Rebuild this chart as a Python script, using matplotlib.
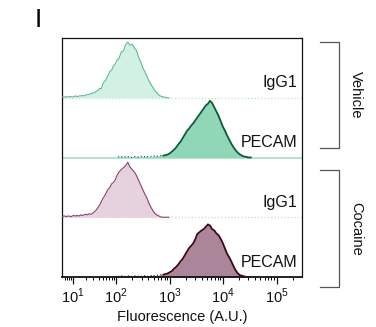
import numpy as np
import matplotlib
matplotlib.use("Agg")
import matplotlib.pyplot as plt
from matplotlib.lines import Line2D

plt.rcParams['font.family'] = ['Liberation Sans', 'DejaVu Sans']
plt.rcParams['mathtext.fontset'] = 'custom'
plt.rcParams['mathtext.rm'] = 'Liberation Sans'

# histogram bins in log10(fluorescence) units
igg_bins = [0.70, 0.74, 0.78, 0.82, 0.86, 0.90, 0.94, 0.98, 1.02, 1.06,
            1.10, 1.14, 1.18, 1.22, 1.26, 1.30, 1.34, 1.38, 1.42, 1.46,
            1.50, 1.54, 1.58, 1.62, 1.66, 1.70, 1.74, 1.78, 1.82, 1.86,
            1.90, 1.94, 1.98, 2.02, 2.06, 2.10, 2.14, 2.18, 2.22, 2.26,
            2.30, 2.34, 2.38, 2.42, 2.46, 2.50, 2.54, 2.58, 2.62, 2.66,
            2.70, 2.74, 2.78, 2.82, 2.86, 2.90, 2.94, 2.98]
veh_igg = [1, 2, 1, 2, 1, 2, 2, 1, 2, 3,
           2, 3, 3, 4, 3, 5, 5, 6, 7, 8,
           8, 11, 12, 16, 15, 24, 28, 32, 38, 44,
           46, 53, 56, 63, 66, 77, 78, 89, 93, 88,
           90, 84, 79, 68, 60, 50, 43, 35, 27, 21,
           15, 10, 6, 3, 2, 1, 0, 0]
coc_igg = [1, 2, 2, 1, 2, 2, 1, 2, 3, 2,
           3, 2, 4, 3, 4, 5, 4, 6, 5, 7,
           9, 12, 16, 20, 26, 32, 36, 42, 47, 50,
           56, 58, 62, 70, 76, 80, 83, 86, 92, 84,
           80, 76, 70, 62, 54, 46, 38, 31, 22, 15,
           9, 5, 3, 1, 0, 0, 0, 0]

pecam_bins = [2.00, 2.04, 2.08, 2.12, 2.16, 2.20, 2.24, 2.28, 2.32, 2.36,
              2.40, 2.44, 2.48, 2.52, 2.56, 2.60, 2.64, 2.68, 2.72, 2.76,
              2.80, 2.84, 2.88, 2.92, 2.96, 3.00, 3.04, 3.08, 3.12, 3.16,
              3.20, 3.24, 3.28, 3.32, 3.36, 3.40, 3.44, 3.48, 3.52, 3.56,
              3.60, 3.64, 3.68, 3.72, 3.76, 3.80, 3.84, 3.88, 3.92, 3.96,
              4.00, 4.04, 4.08, 4.12, 4.16, 4.20, 4.24, 4.28, 4.32, 4.36,
              4.40, 4.44, 4.48, 4.52]
veh_pecam = [0, 1, 2, 1, 1, 2, 1, 0, 1, 2,
             1, 1, 2, 1, 2, 1, 2, 2, 3, 2,
             3, 3, 3, 4, 5, 7, 10, 13, 17, 22,
             26, 32, 38, 44, 48, 53, 57, 62, 67, 72,
             77, 82, 87, 90, 95, 91, 84, 77, 70, 61,
             52, 45, 37, 30, 23, 17, 12, 8, 5, 3,
             1.5, 1, 0, 0]
coc_pecam = [0, 1, 1, 2, 1, 1, 2, 1, 1, 2,
             1, 2, 1, 2, 2, 1, 2, 3, 2, 3,
             3, 4, 4, 5, 6, 8, 10, 14, 17, 21,
             26, 30, 36, 42, 48, 52, 56, 63, 72, 75,
             78, 80, 84, 88, 86, 80, 78, 73, 70, 64,
             57, 48, 39, 33, 26, 18, 11, 6, 3, 2,
             1, 0, 0, 0]

labels = ['IgG1', 'PECAM', 'IgG1', 'PECAM']
groups = ['Vehicle', 'Cocaine']

# biexponential-like display: decade -> screen position
dec_pts = [-1.0, 0.7, 1.0, 2.0, 3.0, 4.0, 5.0, 6.5]
pos_pts = [0.0, 62.0, 73.0, 116.0, 170.0, 223.0, 277.0, 358.0]

def fwd(x):
    return np.interp(x, dec_pts, pos_pts)

def inv(p):
    return np.interp(p, pos_pts, dec_pts)

fig = plt.figure(figsize=(3.76, 3.27), dpi=100)
ax = fig.add_axes([62 / 376, 50 / 327, 240 / 376, 239 / 327])
ax.set_xscale('function', functions=(fwd, inv))
ax.set_xlim(0.7, 5.47)
ax.set_ylim(0, 400)

# (bins, heights, fill, edge, edge width, index where the solid outline starts)
panels = [
    (igg_bins, veh_igg, '#d3f1e3', '#5fbb96', 0.8, 0),
    (pecam_bins, veh_pecam, '#8fd7b7', '#0b5a3a', 1.3, 22),
    (igg_bins, coc_igg, '#e6d2df', '#86436a', 0.8, 0),
    (pecam_bins, coc_pecam, '#ab8599', '#3b0818', 1.3, 22),
]
base_styles = [('#b8e6d2', ':', 0.9), ('#a3e0c6', '-', 1.2),
               ('#e8c8d6', ':', 0.9), (None, None, None)]

for k, (bx, hy, fc, ec, lw, i0) in enumerate(panels):
    base = (3 - k) * 100
    bx = np.array(bx)
    top = base + np.array(hy, dtype=float)
    ax.fill_between(bx, base, top, color=fc, lw=0, zorder=2)
    if i0 > 0:
        ax.plot(bx[1:i0 + 1], top[1:i0 + 1], color=ec, lw=0.8, ls=(0, (1, 2)), zorder=3)
    ax.plot(bx[i0:], top[i0:], color=ec, lw=lw, zorder=3)
    col, ls, blw = base_styles[k]
    if col is not None:
        ax.axhline(base, color=col, ls=ls, lw=blw, zorder=1)
    ax.text(5.38, base + 25, labels[k], ha='right', va='center',
            fontsize=11.5, color='#111111')

ax.set_yticks([])
ax.set_xticks([1, 2, 3, 4, 5])
ax.set_xticklabels([r'$10^{1}$', r'$10^{2}$', r'$10^{3}$', r'$10^{4}$', r'$10^{5}$'],
                   fontsize=10.5)
minors = [n + np.log10(m) for n in range(0, 6) for m in range(2, 10)]
minors = [v for v in minors if 0.72 < v < 5.45]
ax.set_xticks(minors, minor=True)
ax.tick_params(axis='x', which='major', length=5, width=0.9, direction='out',
               pad=2, colors='#111111')
ax.tick_params(axis='x', which='minor', length=2.5, width=0.7, direction='out')
for s in ax.spines.values():
    s.set_linewidth(0.9)
    s.set_color('#111111')
ax.spines['bottom'].set_linewidth(1.3)
ax.set_xlabel('Fluorescence (A.U.)', fontsize=10.5, labelpad=3, color='#111111')

# group brackets
def px(x, y):
    return x / 376, 1 - y / 327

for (y0, y1), name in zip([(42, 148), (170, 287)], groups):
    xs = [320, 339, 339, 320]
    ys = [y0, y0, y1, y1]
    fx, fy = zip(*[px(a, b) for a, b in zip(xs, ys)])
    fig.add_artist(Line2D(fx, fy, color='#555555', lw=0.9))
    tx, ty = px(356, (y0 + y1) / 2)
    fig.text(tx, ty, name, rotation=-90, ha='center', va='center',
             fontsize=10.5, color='#111111')

fig.text(38 / 376, 1 - 20 / 327, 'I', fontsize=19, ha='center', va='center')

fig.savefig('out.png', dpi=100)
